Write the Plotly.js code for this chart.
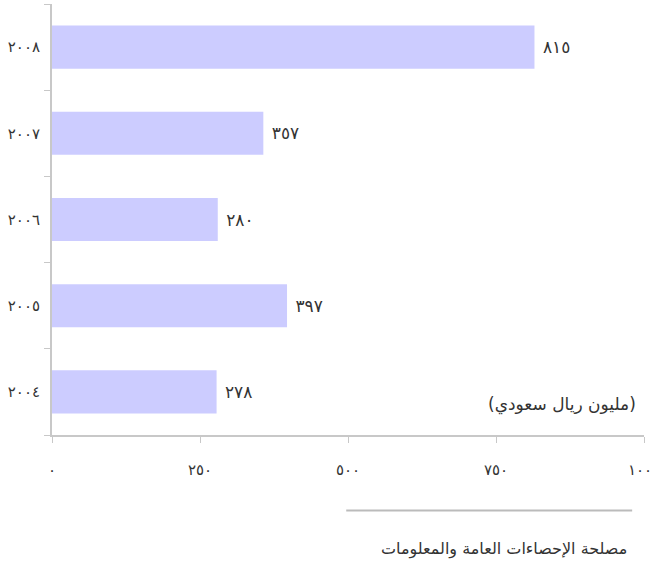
<!DOCTYPE html>
<html>
<head>
<meta charset="utf-8">
<script src="https://cdn.plot.ly/plotly-3.0.1.min.js"></script>
<style>html,body{margin:0;padding:0;background:#fff;}#chart{width:653px;height:565px;}</style>
</head>
<body>
<div id="chart"></div>
<script>
const years = [2004, 2005, 2006, 2007, 2008];
const values = [278, 397, 280, 357, 815];
const xTicks = [0, 250, 500, 750, 1000];
const unitLabel = '(مليون ريال سعودي)';
const sourceLabel = 'مصلحة الإحصاءات العامة والمعلومات';

const arDigits = '٠١٢٣٤٥٦٧٨٩';
function toAr(n) { return String(n).replace(/[0-9]/g, d => arDigits[+d]); }

const FONT = 'DejaVu Sans, Noto Sans, sans-serif';
const cats = years.map(toAr);

const trace = {
  type: 'bar',
  orientation: 'h',
  y: cats,
  x: values,
  text: values.map(toAr),
  texttemplate: '\u00a0%{text}',
  textposition: 'outside',
  cliponaxis: false,
  textfont: {family: FONT, size: 17, color: '#333333'},
  marker: {color: '#ccccff', line: {width: 0}},
  hoverinfo: 'none'
};

const layout = {
  width: 653, height: 565,
  margin: {l: 52, r: 9, t: 4, b: 130},
  paper_bgcolor: '#ffffff', plot_bgcolor: '#ffffff',
  showlegend: false,
  bargap: 0.5,
  font: {family: FONT, size: 14, color: '#333333'},
  xaxis: {
    range: [0, 1000],
    tickvals: xTicks,
    ticktext: xTicks.map(toAr),
    showgrid: false, zeroline: false,
    showline: true, linecolor: '#c8c8c8', linewidth: 2,
    ticks: 'outside', ticklen: 6, tickcolor: '#c8c8c8', tickwidth: 1,
    ticklabelstandoff: 14,
    ticklabeloverflow: 'allow',
    tickfont: {family: FONT, size: 15, color: '#333333'},
    fixedrange: true
  },
  yaxis: {
    type: 'category',
    categoryorder: 'array', categoryarray: cats,
    showgrid: false, zeroline: false,
    showline: true, linecolor: '#c8c8c8', linewidth: 2,
    ticks: 'outside', ticklen: 6, tickcolor: '#c8c8c8', tickwidth: 1,
    tickson: 'boundaries',
    ticklabelstandoff: 7,
    tickfont: {family: FONT, size: 15, color: '#333333'},
    fixedrange: true
  },
  shapes: [{
    type: 'line', xref: 'paper', yref: 'paper',
    x0: 0.497, x1: 0.980, y0: -0.175, y1: -0.175,
    line: {color: '#bbbbbb', width: 2}
  }],
  annotations: [
    {text: unitLabel, xref: 'paper', yref: 'paper', x: 0.99, y: 0.07,
     xanchor: 'right', yanchor: 'middle', showarrow: false,
     font: {family: FONT, size: 17, color: '#333333'}},
    {text: sourceLabel, xref: 'paper', yref: 'paper', x: 0.974, y: -0.264,
     xanchor: 'right', yanchor: 'middle', showarrow: false,
     font: {family: FONT, size: 16, color: '#333333'}}
  ]
};

Plotly.newPlot('chart', [trace], layout, {displayModeBar: false, staticPlot: true});
</script>
</body>
</html>
